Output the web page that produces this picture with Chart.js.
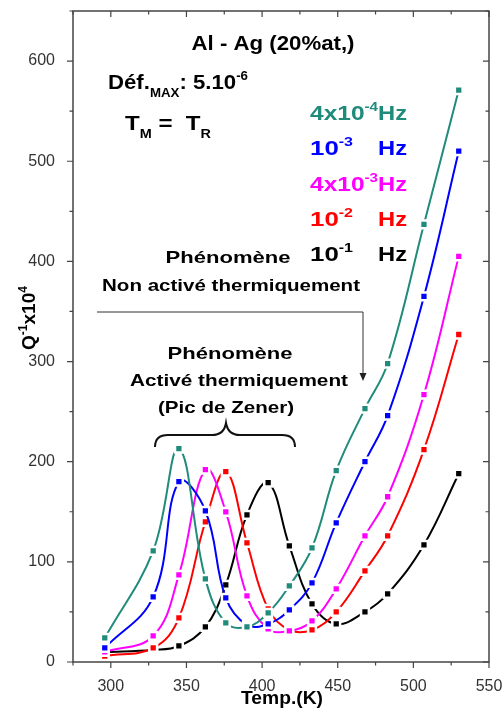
<!DOCTYPE html>
<html lang="fr">
<head>
    <meta charset="UTF-8">
    <title>Al - Ag (20%at,)</title>
    <script src="https://cdn.jsdelivr.net/npm/chart.js"></script>
    <style>
        body {
            margin: 0;
            background: #ffffff;
        }
        canvas {
            display: block;
        }
    </style>
</head>
<body>
    <canvas id="frictionChart" width="503" height="708"></canvas>

    <script>
        // Temperatures (K) of the measurement points
        const temps = [296, 328, 345, 362.5, 376, 390, 404, 418, 433, 449, 468, 483, 507, 530];

        // Q^-1 x 10^4 for each frequency
        const q4e4 = [24, 111, 213, 83, 39, 35, 49, 76, 114, 191, 253, 298, 437, 571];
        const q1e3 = [14, 65, 180, 151, 64, 37, 38, 52, 79, 139, 200, 246, 365, 510];
        const q4e3 = [10, 26, 87, 192, 150, 66, 33, 31, 41, 73, 126, 165, 267, 405];
        const q1e2 = [6, 14, 44, 140, 190, 119, 53, 32, 32, 50, 91, 126, 212, 327];
        const q1e1 = [10, 12, 16, 35, 77, 147, 179, 116, 58, 38, 50, 68, 117, 188];

        const freqLabels = ['4x10-4 Hz', '10-3 Hz', '4x10-3 Hz', '10-2 Hz', '10-1 Hz'];
        const colors = ['#1f8b7b', '#0000ff', '#ff00ff', '#ff0000', '#000000'];

        const FONT = '"Liberation Sans", Arial, sans-serif';

        function series(values, i) {
            return {
                label: freqLabels[i],
                data: temps.map((t, k) => ({ x: t, y: values[k] })),
                borderColor: colors[i],
                backgroundColor: colors[i],
                borderWidth: 2,
                tension: 0.4,
                pointStyle: 'rect',
                pointRadius: 5.5,
                pointBorderWidth: 2.5,
                pointBorderColor: '#ffffff',
                pointBackgroundColor: colors[i],
                fill: false,
            };
        }

        // bold text with sub/superscripts; parts = [text, size, dy]
        function rich(ctx, parts, x, y, opt) {
            opt = opt || {};
            let w = 0;
            parts.forEach(p => {
                ctx.font = 'bold ' + p[1] + 'px ' + FONT;
                w += ctx.measureText(p[0]).width;
            });
            const sx = opt.width ? opt.width / w : 1;
            let x0 = x;
            if (opt.align === 'center') x0 = x - w * sx / 2;
            if (opt.align === 'right') x0 = x - w * sx;
            const base = y + parts[0][1] * 0.36;
            ctx.save();
            ctx.fillStyle = opt.color || '#000';
            ctx.textBaseline = 'alphabetic';
            ctx.translate(x0, base);
            ctx.scale(sx, 1);
            let cx = 0;
            parts.forEach(p => {
                ctx.font = 'bold ' + p[1] + 'px ' + FONT;
                ctx.fillText(p[0], cx, p[2] || 0);
                cx += ctx.measureText(p[0]).width;
            });
            ctx.restore();
        }

        const decor = {
            id: 'decor',
            afterDraw(chart) {
                const ctx = chart.ctx;
                const xs = chart.scales.x, ys = chart.scales.y;
                const a = chart.chartArea;

                // frame and ticks
                ctx.save();
                ctx.strokeStyle = '#444';
                ctx.lineWidth = 1.5;
                ctx.strokeRect(a.left, a.top, a.right - a.left, a.bottom - a.top);
                ctx.lineWidth = 1.2;
                ctx.beginPath();
                xs.ticks.forEach(t => {
                    const px = xs.getPixelForValue(t.value);
                    const len = t.value % 50 === 0 ? 6 : 3.5;
                    ctx.moveTo(px, a.bottom); ctx.lineTo(px, a.bottom + len);
                    ctx.moveTo(px, a.top); ctx.lineTo(px, a.top + len);
                });
                ys.ticks.forEach(t => {
                    const py = ys.getPixelForValue(t.value);
                    const len = t.value % 100 === 0 ? 6 : 3.5;
                    ctx.moveTo(a.left - len, py); ctx.lineTo(a.left, py);
                    ctx.moveTo(a.right - len, py); ctx.lineTo(a.right, py);
                });
                ctx.stroke();
                ctx.restore();

                // axis titles
                rich(ctx, [['Temp.(K)', 19]], 282, 697, { align: 'center', width: 82 });
                ctx.save();
                ctx.translate(28, 318);
                ctx.rotate(-Math.PI / 2);
                rich(ctx, [['Q', 19], ['-1', 12, -8], ['x10', 19], ['4', 12, -8]], 0, 0, { align: 'center' });
                ctx.restore();

                // header texts
                rich(ctx, [['Al - Ag (20%at,)', 20]], 273, 43, { align: 'center', width: 163 });
                rich(ctx, [['Déf.', 20], ['MAX', 12, 8], [': 5.10', 20], ['-6', 12, -9]], 108, 82, { width: 140 });
                rich(ctx, [['T', 20], ['M', 12, 8], [' =  T', 20], ['R', 12, 8]], 125, 123, { width: 86 });

                // frequency legend
                const legendRows = [
                    [['4x10', 21], ['-4', 13, -9]],
                    [['10', 21], ['-3', 13, -9]],
                    [['4x10', 21], ['-3', 13, -9]],
                    [['10', 21], ['-2', 13, -9]],
                    [['10', 21], ['-1', 13, -9]],
                ];
                const rowY = [112, 147, 183, 218, 253];
                legendRows.forEach((parts, i) => {
                    const long = parts[0][0].length > 2;
                    rich(ctx, parts, 310, rowY[i], { color: colors[i], width: long ? 68 : 43 });
                    rich(ctx, [['Hz', 21]], 407, rowY[i], { color: colors[i], align: 'right', width: 29 });
                });

                // phenomenon labels
                rich(ctx, [['Phénomène', 17]], 228, 257, { align: 'center', width: 125 });
                rich(ctx, [['Non activé thermiquement', 17]], 231, 285, { align: 'center', width: 258 });
                rich(ctx, [['Phénomène', 17]], 230, 353, { align: 'center', width: 125 });
                rich(ctx, [['Activé thermiquement', 17]], 239, 380, { align: 'center', width: 218 });
                rich(ctx, [['(Pic de Zener)', 17]], 226, 407, { align: 'center', width: 136 });

                // arrow
                ctx.save();
                ctx.strokeStyle = '#333';
                ctx.fillStyle = '#222';
                ctx.lineWidth = 1;
                ctx.beginPath();
                ctx.moveTo(97, 312);
                ctx.lineTo(363, 312);
                ctx.lineTo(363, 374);
                ctx.stroke();
                ctx.beginPath();
                ctx.moveTo(359.5, 373);
                ctx.lineTo(366.5, 373);
                ctx.lineTo(363, 381);
                ctx.closePath();
                ctx.fill();

                // brace
                ctx.strokeStyle = '#111';
                ctx.lineWidth = 2;
                ctx.beginPath();
                ctx.moveTo(155, 447);
                ctx.quadraticCurveTo(155, 435, 168, 435);
                ctx.lineTo(212, 435);
                ctx.quadraticCurveTo(224, 435, 226, 423);
                ctx.quadraticCurveTo(228, 435, 240, 435);
                ctx.lineTo(282, 435);
                ctx.quadraticCurveTo(295, 435, 295, 447);
                ctx.stroke();
                ctx.restore();
            }
        };

        // fixed axis boxes, no label overhang padding
        function fixBox(s, size) {
            if (s.isHorizontal()) s.height = size; else s.width = size;
            s.paddingTop = 0;
            s.paddingBottom = 0;
            s.paddingLeft = 0;
            s.paddingRight = 0;
        }

        const ctx = document.getElementById('frictionChart').getContext('2d');

        new Chart(ctx, {
            type: 'line',
            data: {
                datasets: [
                    series(q4e4, 0),
                    series(q1e3, 1),
                    series(q4e3, 2),
                    series(q1e2, 3),
                    series(q1e1, 4),
                ],
            },
            options: {
                responsive: false,
                animation: false,
                layout: {
                    padding: { top: 11, right: 14, left: 0, bottom: 0 },
                },
                plugins: {
                    legend: { display: false },
                    tooltip: { enabled: false },
                },
                scales: {
                    x: {
                        type: 'linear',
                        min: 275,
                        max: 550,
                        grid: { display: false },
                        border: { display: false },
                        ticks: {
                            stepSize: 25,
                            autoSkip: false,
                            maxRotation: 0,
                            padding: 7,
                            color: '#333',
                            font: { family: FONT, size: 16 },
                            callback: v => (v % 50 === 0 ? v : ''),
                        },
                        afterFit: s => fixBox(s, 46),
                    },
                    y: {
                        min: 0,
                        max: 650,
                        grid: { display: false },
                        border: { display: false },
                        ticks: {
                            stepSize: 50,
                            padding: 10,
                            color: '#333',
                            font: { family: FONT, size: 16 },
                            callback: v => (v % 100 === 0 ? v : ''),
                        },
                        afterFit: s => fixBox(s, 73),
                    },
                },
            },
            plugins: [decor],
        });
    </script>
</body>
</html>
